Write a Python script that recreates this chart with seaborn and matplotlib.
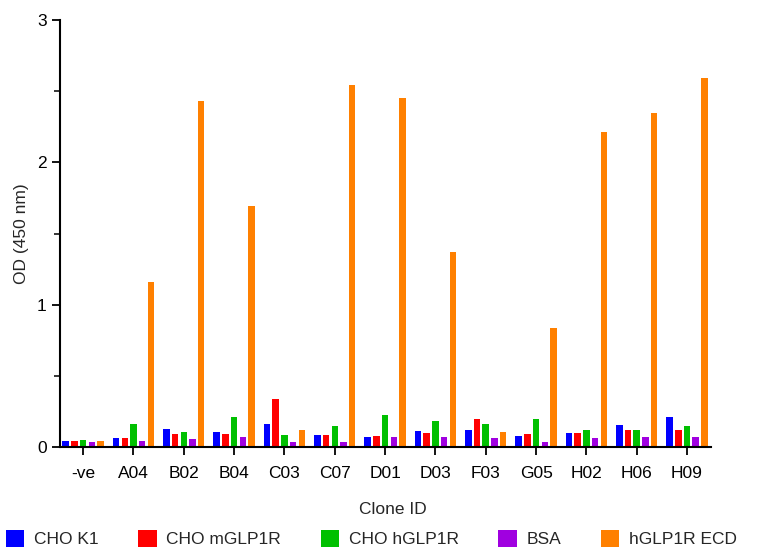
import matplotlib
matplotlib.use("Agg")
import matplotlib.pyplot as plt
import seaborn as sns
import pandas as pd
from matplotlib.patches import Patch
from matplotlib.ticker import MultipleLocator

clones = ["-ve", "A04", "B02", "B04", "C03", "C07", "D01", "D03", "F03", "G05", "H02", "H06", "H09"]
series = ["CHO K1", "CHO mGLP1R", "CHO hGLP1R", "BSA", "hGLP1R ECD"]
cho_k1 = [0.042, 0.065, 0.126, 0.105, 0.164, 0.084, 0.070, 0.115, 0.122, 0.080, 0.101, 0.157, 0.213]
cho_mglp1r = [0.042, 0.063, 0.089, 0.091, 0.340, 0.084, 0.077, 0.101, 0.197, 0.094, 0.101, 0.122, 0.122]
cho_hglp1r = [0.047, 0.162, 0.105, 0.210, 0.082, 0.148, 0.222, 0.185, 0.164, 0.197, 0.122, 0.122, 0.145]
bsa = [0.035, 0.042, 0.056, 0.068, 0.035, 0.035, 0.070, 0.073, 0.066, 0.035, 0.066, 0.073, 0.068]
hglp1r_ecd = [0.042, 1.160, 2.430, 1.690, 0.120, 2.540, 2.450, 1.370, 0.108, 0.835, 2.210, 2.350, 2.590]
colors = ["#0000FF", "#FF0000", "#00C000", "#A000E0", "#FF8000"]

values = [cho_k1, cho_mglp1r, cho_hglp1r, bsa, hglp1r_ecd]
rows = []
for s, vals in zip(series, values):
    for c, v in zip(clones, vals):
        rows.append({"Clone ID": c, "Series": s, "OD": v})
df = pd.DataFrame(rows)

sns.set_style("ticks")
plt.rcParams["font.family"] = ["Liberation Sans", "DejaVu Sans"]

fig = plt.figure(figsize=(7.66, 5.49), dpi=100)
ax = fig.add_axes([60 / 766, 1 - 447 / 549, (710.7 - 60) / 766, (447 - 20) / 549])

sns.barplot(data=df, x="Clone ID", y="OD", hue="Series", order=clones, hue_order=series,
            palette=colors, width=0.864, gap=0.25, saturation=1, ax=ax, legend=False,
            errorbar=None, linewidth=0)

ax.set_xlim(-0.46, 12.47)
ax.set_ylim(0, 3)
ax.yaxis.set_major_locator(MultipleLocator(1))
ax.yaxis.set_minor_locator(MultipleLocator(0.5))
sns.despine(ax=ax)
for sp in ["left", "bottom"]:
    ax.spines[sp].set_linewidth(1.5)
    ax.spines[sp].set_color("black")
ax.tick_params(axis="both", which="major", direction="out", length=6, width=1.3,
               labelsize=12.5, colors="black")
ax.tick_params(axis="y", which="minor", direction="out", length=4, width=1.3)
ax.tick_params(axis="x", pad=8)
ax.set_xlabel("Clone ID", fontsize=12.5)
ax.set_ylabel("OD (450 nm)", fontsize=12.5, labelpad=6)
ax.xaxis.set_label_coords(0.512, -0.128)

handles = [Patch(facecolor=c, edgecolor="none", label=s) for c, s in zip(colors, series)]
fig.legend(handles=handles, loc="lower left",
           bbox_to_anchor=(6 / 766, 0.003), ncol=5,
           frameon=False, fontsize=12.5, handlelength=1.05, handleheight=1.1,
           handletextpad=0.55, columnspacing=2.3, borderaxespad=0.0, borderpad=0.0)

fig.savefig("out.png", dpi=100)
